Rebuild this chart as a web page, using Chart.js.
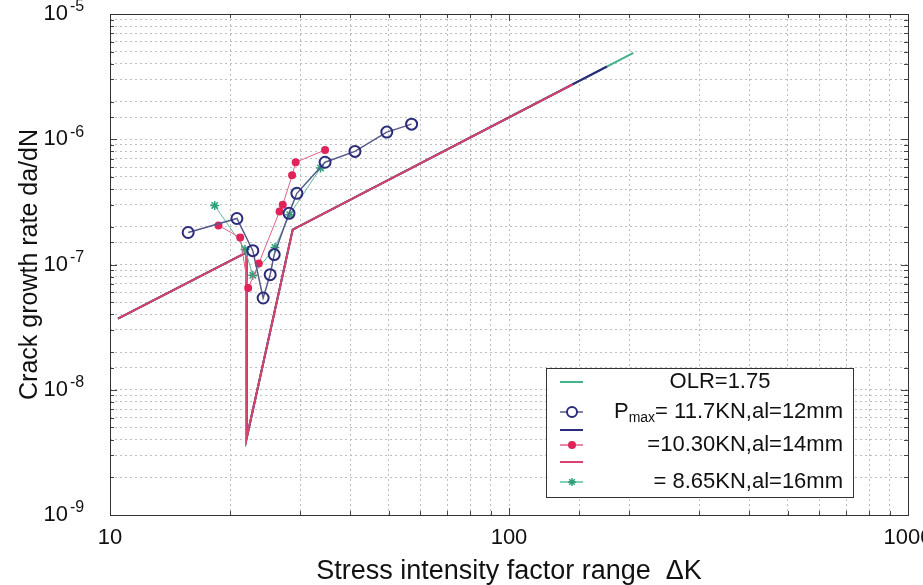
<!DOCTYPE html>
<html>
<head>
<meta charset="utf-8">
<script src="https://cdn.jsdelivr.net/npm/chart.js@4/dist/chart.umd.min.js"></script>
<style>
	html, body { margin: 0; padding: 0; background: #fff; }
</style>
</head>
<body>
<canvas id="myChart" width="923" height="585"></canvas>
<script>
// Pmax = 11.7KN, al = 12mm  (open circles)
const circleK = [15.7, 20.8, 22.8, 24.2, 25.2, 25.8, 28.1, 29.4, 34.6, 41.1, 49.4, 57.0];
const circleRate = [1.8e-7, 2.33e-7, 1.29e-7, 5.4e-8, 8.3e-8, 1.2e-7, 2.56e-7, 3.7e-7, 6.55e-7, 8.0e-7, 1.14e-6, 1.32e-6];

// =10.30KN, al = 14mm  (dots)
const dotK = [18.7, 21.2, 22.2, 23.6, 26.6, 27.1, 28.6, 29.2, 34.6];
const dotRate = [2.05e-7, 1.64e-7, 6.5e-8, 1.02e-7, 2.65e-7, 3.0e-7, 5.15e-7, 6.55e-7, 8.2e-7];

// = 8.65KN, al = 16mm  (stars)
const starK = [18.3, 21.8, 22.8, 25.9, 28.2, 33.7];
const starRate = [2.96e-7, 1.32e-7, 8.2e-8, 1.37e-7, 2.5e-7, 5.9e-7];

// predicted curves
const olrK = [10.47, 22.0, 22.0, 28.7, 205];
const olrRate = [3.7e-8, 1.25e-7, 4.1e-9, 1.9e-7, 4.9e-6];
const navyK = [10.47, 22.0, 22.0, 28.7, 176];
const navyRate = [3.7e-8, 1.25e-7, 4.1e-9, 1.9e-7, 3.81e-6];
const pinkK = [10.47, 22.0, 22.0, 28.7, 144.5];
const pinkRate = [3.7e-8, 1.25e-7, 4.1e-9, 1.9e-7, 2.74e-6];

const legendLabels = ["OLR=1.75", "= 11.7KN,al=12mm", "=10.30KN,al=14mm", "= 8.65KN,al=16mm"];

const FONT = "'Liberation Sans', Arial, sans-serif";
const GREEN = "#43b387";
const NAVY = "#2c2c7a";
const PINK = "#d9416f";

const toPoints = function (xs, ys) {
	return xs.map(function (x, i) {
		return { x: x, y: ys[i] };
	});
};

const isDecade = function (v) {
	const e = Math.log10(v);
	return Math.abs(e - Math.round(e)) < 1e-6;
};

// box round the plot with small inner ticks, like the original
const frame = {
	id: "frame",
	afterDraw(chart) {
		const { ctx, chartArea } = chart;
		const xs = chart.scales.x;
		const ys = chart.scales.y;
		ctx.save();
		ctx.strokeStyle = "#444";
		ctx.lineWidth = 1;
		ctx.beginPath();
		xs.ticks.forEach(function (t) {
			const px = Math.round(xs.getPixelForValue(t.value)) + 0.5;
			const len = isDecade(t.value) ? 7 : 4;
			ctx.moveTo(px, chartArea.bottom);
			ctx.lineTo(px, chartArea.bottom - len);
			ctx.moveTo(px, chartArea.top);
			ctx.lineTo(px, chartArea.top + len);
		});
		ys.ticks.forEach(function (t) {
			const py = Math.round(ys.getPixelForValue(t.value)) + 0.5;
			const len = isDecade(t.value) ? 7 : 4;
			ctx.moveTo(chartArea.left, py);
			ctx.lineTo(chartArea.left + len, py);
			ctx.moveTo(chartArea.right, py);
			ctx.lineTo(chartArea.right - len, py);
		});
		ctx.stroke();
		ctx.strokeStyle = "#333";
		ctx.strokeRect(chartArea.left + 0.5, chartArea.top + 0.5, chartArea.right - chartArea.left, chartArea.bottom - chartArea.top);

		// exponents of the y tick labels (the "10" comes from the scale)
		ctx.fillStyle = "#111";
		ctx.font = "16px " + FONT;
		ctx.textAlign = "left";
		ctx.textBaseline = "middle";
		ys.ticks.forEach(function (t) {
			if (!isDecade(t.value)) return;
			const py = ys.getPixelForValue(t.value);
			ctx.fillText(String(Math.round(Math.log10(t.value))), 70, py - 7);
		});
		ctx.restore();
	},
};

const legendBox = {
	id: "legendBox",
	afterDatasetsDraw(chart) {
		const { ctx, chartArea } = chart;
		const w = 307, h = 129;
		const x0 = chartArea.right - 55 - w;
		const y0 = chartArea.bottom - 18 - h;
		ctx.save();
		ctx.fillStyle = "#fff";
		ctx.fillRect(x0, y0, w, h);
		ctx.strokeStyle = "#333";
		ctx.lineWidth = 1;
		ctx.strokeRect(x0 + 0.5, y0 + 0.5, w, h);

		const seg = function (y, color, width) {
			ctx.strokeStyle = color;
			ctx.lineWidth = width;
			ctx.beginPath();
			ctx.moveTo(x0 + 14, y);
			ctx.lineTo(x0 + 37, y);
			ctx.stroke();
		};
		const mx = x0 + 26;

		// row 1 : OLR line
		seg(y0 + 14, GREEN, 2);
		// row 2 : circles
		seg(y0 + 44, "#555a88", 1.5);
		ctx.fillStyle = "#fff";
		ctx.strokeStyle = NAVY;
		ctx.lineWidth = 2;
		ctx.beginPath();
		ctx.arc(mx, y0 + 44, 5, 0, Math.PI * 2);
		ctx.fill();
		ctx.stroke();
		// row 3 : navy line
		seg(y0 + 62, NAVY, 2);
		// row 4 : dots
		seg(y0 + 77, "#e06088", 1.5);
		ctx.fillStyle = "#e0245a";
		ctx.beginPath();
		ctx.arc(mx, y0 + 77, 4, 0, Math.PI * 2);
		ctx.fill();
		// row 5 : pink line
		seg(y0 + 94, PINK, 2);
		// row 6 : star
		seg(y0 + 114, "#5cbf9a", 1.5);
		ctx.strokeStyle = "#2f9f78";
		ctx.lineWidth = 1.5;
		ctx.beginPath();
		for (let a = 0; a < 4; a++) {
			const ang = a * Math.PI / 4;
			ctx.moveTo(mx - 4 * Math.cos(ang), y0 + 114 - 4 * Math.sin(ang));
			ctx.lineTo(mx + 4 * Math.cos(ang), y0 + 114 + 4 * Math.sin(ang));
		}
		ctx.stroke();

		// texts
		ctx.fillStyle = "#111";
		ctx.textBaseline = "middle";
		ctx.font = "22px " + FONT;
		ctx.textAlign = "center";
		ctx.fillText(legendLabels[0], x0 + 174, y0 + 14);
		ctx.textAlign = "right";
		const tx = x0 + 297;
		ctx.fillText(legendLabels[1], tx, y0 + 44);
		const w1 = ctx.measureText(legendLabels[1]).width;
		ctx.font = "14px " + FONT;
		ctx.fillText("max", tx - w1, y0 + 50);
		const w2 = ctx.measureText("max").width;
		ctx.font = "22px " + FONT;
		ctx.fillText("P", tx - w1 - w2, y0 + 44);
		ctx.fillText(legendLabels[2], tx, y0 + 77);
		ctx.fillText(legendLabels[3], tx, y0 + 114);
		ctx.restore();
	},
};

const ctx = document.getElementById("myChart").getContext("2d");
const myChart = new Chart(ctx, {
	type: "scatter",
	data: {
		datasets: [
			{
				label: "Pmax= 11.7KN,al=12mm",
				data: toPoints(circleK, circleRate),
				showLine: true,
				borderColor: "#555a88",
				borderWidth: 1.5,
				pointStyle: "circle",
				pointRadius: 5.5,
				pointBorderWidth: 2,
				pointBorderColor: NAVY,
				pointBackgroundColor: "rgba(255,255,255,0)",
			},
			{
				label: "=10.30KN,al=14mm",
				data: toPoints(dotK, dotRate),
				showLine: true,
				borderColor: "#e06088",
				borderWidth: 1,
				pointStyle: "circle",
				pointRadius: 4,
				pointBorderWidth: 0,
				pointBackgroundColor: "#e0245a",
			},
			{
				label: "= 8.65KN,al=16mm",
				data: toPoints(starK, starRate),
				showLine: true,
				borderColor: "#5cbf9a",
				borderWidth: 1,
				pointStyle: "star",
				pointRadius: 4.5,
				pointBorderWidth: 1.5,
				pointBorderColor: "#2f9f78",
			},
			{
				label: "pink line",
				data: toPoints(pinkK, pinkRate),
				showLine: true,
				borderColor: PINK,
				borderWidth: 2,
				pointRadius: 0,
			},
			{
				label: "navy line",
				data: toPoints(navyK, navyRate),
				showLine: true,
				borderColor: NAVY,
				borderWidth: 2,
				pointRadius: 0,
			},
			{
				label: "OLR=1.75",
				data: toPoints(olrK, olrRate),
				showLine: true,
				borderColor: GREEN,
				borderWidth: 2,
				pointRadius: 0,
			},
		],
	},
	options: {
		responsive: false,
		animation: false,
		layout: { padding: { left: 0, top: 14, right: 15, bottom: 0 } },
		plugins: {
			legend: { display: false },
			tooltip: { enabled: false },
		},
		scales: {
			x: {
				type: "logarithmic",
				min: 10,
				max: 1000,
				grid: { color: "#bdbdbd", drawTicks: false },
				border: { display: false, dash: [2, 3] },
				ticks: {
					autoSkip: false,
					maxRotation: 0,
					padding: 10,
					color: "#111",
					font: { family: FONT, size: 22 },
					callback: function (v) {
						return isDecade(v) ? String(Math.round(v)) : "";
					},
				},
				title: {
					display: true,
					text: "Stress intensity factor range  \u0394K",
					color: "#111",
					font: { family: FONT, size: 27, lineHeight: 1 },
					padding: { top: 0, bottom: 0 },
				},
				afterFit: function (scale) {
					scale.height = 70;
					scale.paddingLeft = 0;
					scale.paddingRight = 0;
				},
			},
			y: {
				type: "logarithmic",
				min: 1e-9,
				max: 1e-5,
				grid: { color: "#bdbdbd", drawTicks: false },
				border: { display: false, dash: [2, 3] },
				ticks: {
					autoSkip: false,
					padding: 42,
					color: "#111",
					font: { family: FONT, size: 22 },
					callback: function (v) {
						return isDecade(v) ? "10" : "";
					},
				},
				title: {
					display: true,
					text: "Crack growth rate da/dN",
					color: "#111",
					font: { family: FONT, size: 25, lineHeight: 1 },
					padding: { top: 18, bottom: 0 },
				},
				afterFit: function (scale) {
					scale.width = 110;
					scale.paddingTop = 0;
					scale.paddingBottom = 0;
				},
			},
		},
	},
	plugins: [frame, legendBox],
});
</script>
</body>
</html>
